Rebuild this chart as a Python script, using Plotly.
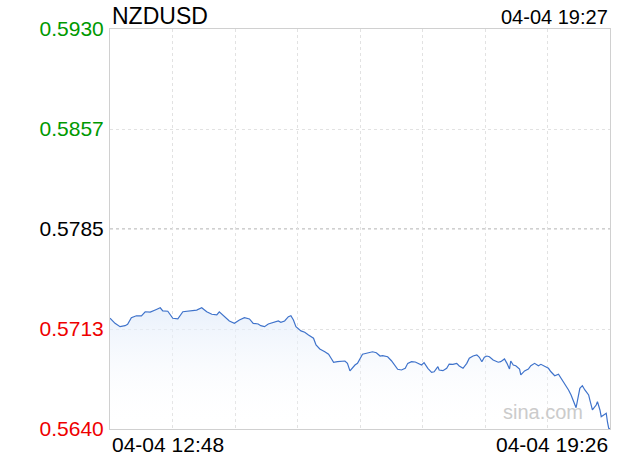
import plotly.graph_objects as go

# minutes after 12:48 on 04-04
MINUTES = [
    0, 4, 8, 12, 14, 17, 21, 25, 28, 32, 36, 40, 42, 46, 50, 54, 58, 62, 66, 69,
    73, 77, 81, 85, 87, 91, 95, 99, 101, 103, 107, 111, 114, 118, 120, 123, 126, 128, 131, 134,
    136, 139, 142, 144, 146, 148, 152, 155, 158, 162, 164, 167, 171, 174, 176, 178, 181, 184, 187, 189,
    191, 195, 197, 201, 205, 209, 212, 215, 217, 221, 224, 227, 229, 232, 235, 237, 240, 243, 245, 248,
    250, 253, 256, 258, 261, 262, 265, 268, 270, 273, 276, 278, 281, 284, 286, 289, 292, 294, 296, 298,
    300, 302, 305, 309, 311, 314, 316, 318, 319, 321, 323, 326, 327, 330, 333, 335, 338, 341, 343, 346,
    349, 351, 354, 357, 359, 362, 365, 367, 369, 371, 374, 376, 378, 381, 382, 384, 387, 388, 390, 391,
    393, 395, 396, 397, 398,
]
PRICES = [
    0.57203, 0.57166, 0.57142, 0.57149, 0.57159, 0.57207, 0.57221, 0.57220, 0.57250, 0.57247,
    0.57263, 0.57279, 0.57256, 0.57254, 0.57203, 0.57198, 0.57250, 0.57256, 0.57263, 0.57262,
    0.57279, 0.57250, 0.57232, 0.57227, 0.57250, 0.57214, 0.57183, 0.57166, 0.57178, 0.57190,
    0.57207, 0.57198, 0.57166, 0.57161, 0.57149, 0.57142, 0.57161, 0.57166, 0.57178, 0.57183,
    0.57174, 0.57183, 0.57214, 0.57221, 0.57190, 0.57142, 0.57111, 0.57101, 0.57082, 0.57058,
    0.57009, 0.56980, 0.56960, 0.56942, 0.56913, 0.56884, 0.56888, 0.56893, 0.56893, 0.56876,
    0.56821, 0.56864, 0.56876, 0.56942, 0.56949, 0.56960, 0.56953, 0.56929, 0.56932, 0.56924,
    0.56895, 0.56852, 0.56833, 0.56828, 0.56840, 0.56876, 0.56888, 0.56886, 0.56876, 0.56864,
    0.56881, 0.56840, 0.56811, 0.56815, 0.56852, 0.56828, 0.56823, 0.56840, 0.56871, 0.56869,
    0.56876, 0.56857, 0.56840, 0.56876, 0.56913, 0.56929, 0.56937, 0.56920, 0.56888, 0.56920,
    0.56929, 0.56924, 0.56900, 0.56884, 0.56888, 0.56908, 0.56876, 0.56835, 0.56893, 0.56864,
    0.56859, 0.56835, 0.56792, 0.56821, 0.56835, 0.56859, 0.56876, 0.56859, 0.56869, 0.56852,
    0.56840, 0.56815, 0.56786, 0.56797, 0.56768, 0.56731, 0.56683, 0.56647, 0.56603, 0.56554,
    0.56695, 0.56714, 0.56683, 0.56647, 0.56610, 0.56538, 0.56574, 0.56598, 0.56538, 0.56489,
    0.56502, 0.56514, 0.56449, 0.56405, 0.56400,
]

Y_TICKS = [0.5640, 0.57125, 0.5785, 0.58575, 0.5930]
Y_LABELS = ["0.5640", "0.5713", "0.5785", "0.5857", "0.5930"]
Y_COLORS = ["#ee0000", "#ee0000", "#000000", "#009900", "#009900"]
PREV_CLOSE = 0.5785
X_END = 398

SYMBOL = "NZDUSD"
STAMP = "04-04 19:27"
START_LABEL = "04-04 12:48"
END_LABEL = "04-04 19:26"

FONT = "Arial, 'Liberation Sans', Helvetica, sans-serif"

fig = go.Figure()

fig.add_trace(go.Scatter(
    x=MINUTES,
    y=PRICES,
    mode="lines",
    line=dict(color="#3f73cb", width=1.2),
    fill="tozeroy",
    fillgradient=dict(
        type="vertical",
        start=Y_TICKS[0],
        stop=max(PRICES),
        colorscale=[[0, "rgba(255,255,255,0)"], [1, "rgba(226,236,250,0.75)"]],
    ),
    hoverinfo="skip",
    showlegend=False,
))

# previous close reference line, a bit darker than the grid
fig.add_shape(
    type="line", xref="paper", x0=0, x1=1, yref="y", y0=PREV_CLOSE, y1=PREV_CLOSE,
    line=dict(color="#a0a0a0", width=1, dash="dot"), layer="below",
)

tick_text = [f"<span style='color:{c}'>{t}</span>" for t, c in zip(Y_LABELS, Y_COLORS)]

fig.update_xaxes(
    range=[0, X_END],
    tickmode="linear", tick0=0, dtick=X_END / 8,
    showticklabels=False, ticks="",
    showgrid=True, gridcolor="#e2e2e2", griddash="dot", gridwidth=1,
    showline=True, linecolor="#d0d0d0", linewidth=1, mirror=True,
    zeroline=False, fixedrange=True,
)
fig.update_yaxes(
    range=[Y_TICKS[0], Y_TICKS[-1]],
    tickmode="array", tickvals=Y_TICKS, ticktext=tick_text,
    ticks="", ticklabelstandoff=1,
    tickfont=dict(size=21, family=FONT),
    showgrid=True, gridcolor="#e2e2e2", griddash="dot", gridwidth=1,
    showline=True, linecolor="#d0d0d0", linewidth=1, mirror=True,
    zeroline=False, fixedrange=True,
)

annotations = [
    dict(text=SYMBOL, x=0, y=1, xanchor="left", yanchor="middle", yshift=13,
         font=dict(size=23, color="#000000")),
    dict(text=STAMP, x=1, y=1, xanchor="right", yanchor="middle", yshift=12,
         font=dict(size=20, color="#000000")),
    dict(text=START_LABEL, x=0, y=0, xanchor="left", yanchor="middle", yshift=-15,
         font=dict(size=21, color="#000000")),
    dict(text=END_LABEL, x=1, y=0, xanchor="right", yanchor="middle", yshift=-15,
         font=dict(size=21, color="#000000")),
    dict(text="sina.com", x=0.95, y=0.043, xanchor="right", yanchor="middle",
         font=dict(size=20, color="#cbcbcb")),
]
for a in annotations:
    a.update(xref="paper", yref="paper", showarrow=False, xshift=0)
    a["font"]["family"] = FONT

fig.update_layout(
    width=620, height=460,
    margin=dict(l=110, r=10, t=29, b=31),
    paper_bgcolor="#ffffff",
    plot_bgcolor="#ffffff",
    font=dict(family=FONT, color="#000000"),
    annotations=annotations,
    showlegend=False,
)

# drop the page's default body margin so the figure sits at the window corner
fig.write_html(
    "out.html",
    config={"displayModeBar": False},
    post_script="document.body.style.margin='0';",
)
